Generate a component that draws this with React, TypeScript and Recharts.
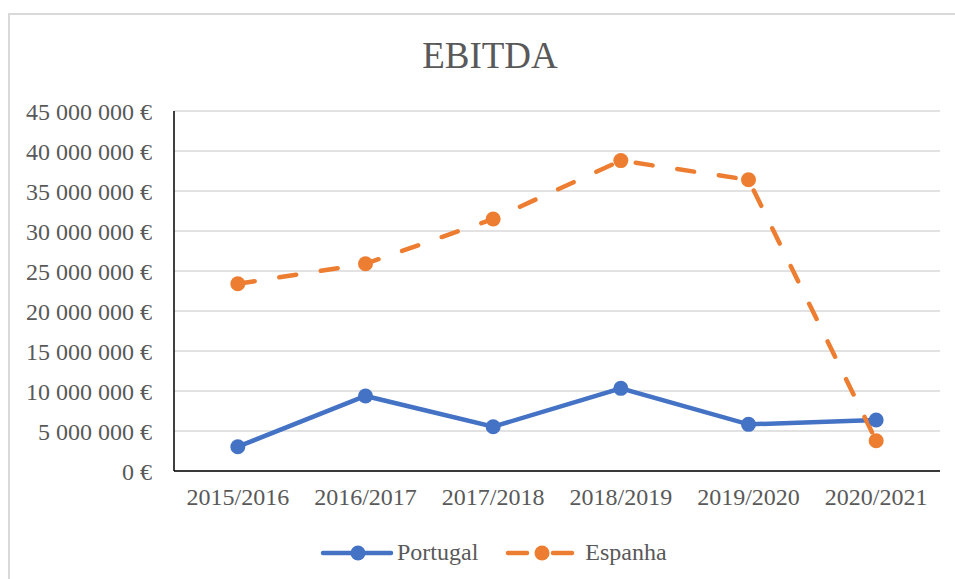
import React from 'react';
import { LineChart, Line, XAxis, YAxis, CartesianGrid, Legend } from 'recharts';

const categories = ['2015/2016', '2016/2017', '2017/2018', '2018/2019', '2019/2020', '2020/2021'];
const portugal = [3040000, 9380000, 5540000, 10330000, 5830000, 6370000];
const espanha = [23400000, 25900000, 31500000, 38800000, 36400000, 3790000];
const yTicks = [0, 5000000, 10000000, 15000000, 20000000, 25000000, 30000000, 35000000, 40000000, 45000000];

const data = categories.map((c, i) => ({ name: c, Portugal: portugal[i], Espanha: espanha[i] }));

const BLUE = '#4472C4';
const ORANGE = '#ED7D31';
const TEXT = '#595959';
const FONT = '"Liberation Serif", "Times New Roman", serif';

const fmt = (v: number) => String(v).replace(/\B(?=(\d{3})+(?!\d))/g, ' ') + ' €';

const LegendContent = () => (
  <div style={{ display: 'flex', alignItems: 'center', fontFamily: FONT, fontSize: 24, color: TEXT, marginLeft: 320 }}>
    <svg width={74} height={20} style={{ display: 'block' }}>
      <line x1={3} y1={10} x2={71} y2={10} stroke={BLUE} strokeWidth={4.5} strokeLinecap="round" />
      <circle cx={38} cy={10} r={7.5} fill={BLUE} />
    </svg>
    <span style={{ marginLeft: 3 }}>Portugal</span>
    <svg width={70} height={20} style={{ display: 'block', marginLeft: 27 }}>
      <line x1={3} y1={10} x2={22} y2={10} stroke={ORANGE} strokeWidth={4.5} strokeLinecap="round" />
      <line x1={48} y1={10} x2={67} y2={10} stroke={ORANGE} strokeWidth={4.5} strokeLinecap="round" />
      <circle cx={37} cy={10} r={7.5} fill={ORANGE} />
    </svg>
    <span style={{ marginLeft: 10 }}>Espanha</span>
  </div>
);

export default function App() {
  return (
    <div style={{ position: 'absolute', left: 0, top: 0, width: 955, height: 579, overflow: 'hidden', background: '#fff' }}>
      <div style={{ position: 'absolute', left: 8, top: 13, width: 980, height: 620, border: '2px solid #D9D9D9', boxSizing: 'border-box' }} />
      <div style={{ position: 'absolute', left: 0, top: 32, width: 980, textAlign: 'center', fontFamily: FONT, fontSize: 37, color: TEXT, lineHeight: '48px' }}>
        EBITDA
      </div>
      <div style={{ position: 'absolute', left: 0, top: 0 }}>
        <LineChart width={955} height={579} data={data} margin={{ top: 111, right: 15, bottom: 48, left: 0 }}>
          <CartesianGrid vertical={false} stroke="#D9D9D9" strokeWidth={1.5} />
          <XAxis
            dataKey="name"
            scale="band"
            height={60}
            axisLine={{ stroke: '#000', strokeWidth: 1.5 }}
            tickLine={false}
            tickSize={0}
            tickMargin={17}
            tick={{ fill: TEXT, fontSize: 24, fontFamily: FONT }}
            interval={0}
          />
          <YAxis
            width={174}
            domain={[0, 45000000]}
            ticks={yTicks}
            tickFormatter={fmt}
            axisLine={{ stroke: '#000', strokeWidth: 1.5 }}
            tickLine={false}
            tickSize={0}
            tickMargin={22}
            tick={{ fill: TEXT, fontSize: 24, fontFamily: FONT }}
            interval={0}
          />
          <Legend
            content={<LegendContent />}
            wrapperStyle={{ position: 'absolute', left: 0, top: 539, width: 955, height: 0 }}
          />
          <Line
            type="linear"
            dataKey="Portugal"
            stroke={BLUE}
            strokeWidth={4.5}
            strokeLinecap="round"
            dot={{ r: 7.5, fill: BLUE, stroke: BLUE, strokeWidth: 0 }}
            activeDot={false}
            isAnimationActive={false}
          />
          <Line
            type="linear"
            dataKey="Espanha"
            stroke={ORANGE}
            strokeWidth={4.5}
            strokeLinecap="round"
            strokeDasharray="17 25"
            dot={{ r: 7.5, fill: ORANGE, stroke: ORANGE, strokeWidth: 0, strokeDasharray: '' }}
            activeDot={false}
            isAnimationActive={false}
          />
        </LineChart>
      </div>
    </div>
  );
}
